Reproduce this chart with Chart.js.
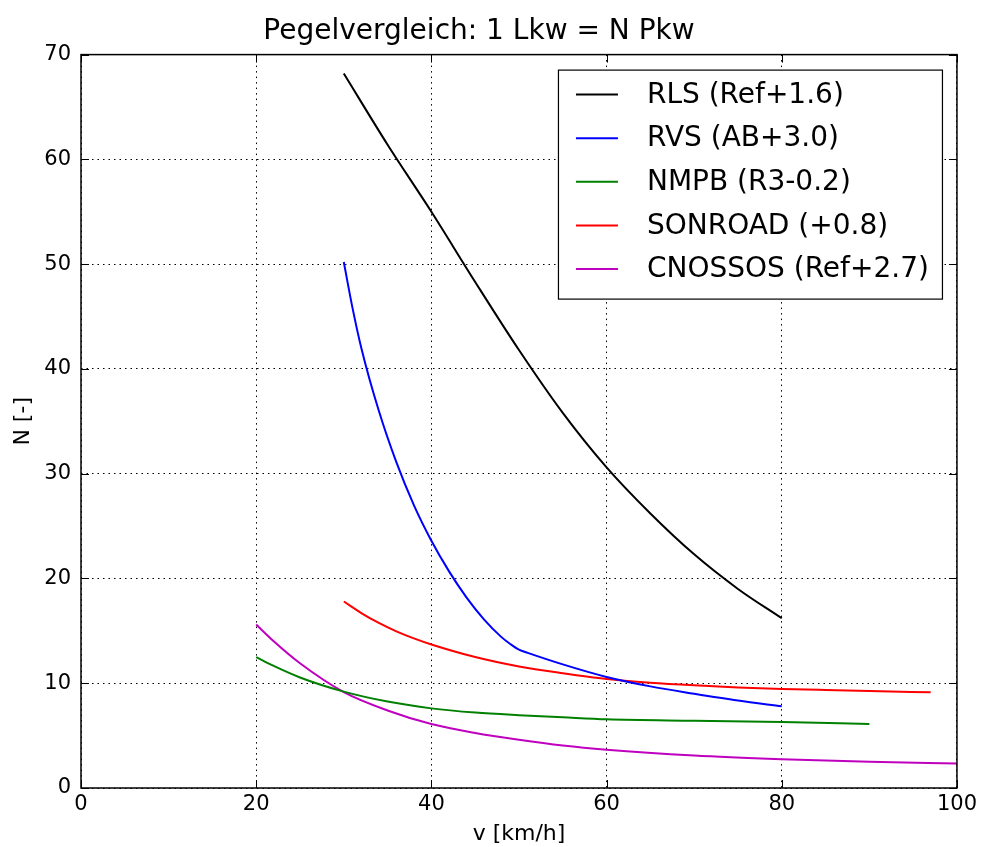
<!DOCTYPE html>
<html>
<head>
<meta charset="utf-8">
<script src="https://cdn.jsdelivr.net/npm/chart.js@4/dist/chart.umd.min.js"></script>
<style>
  html, body { margin: 0; padding: 0; background: #fff; }
  #wrap { width: 981px; height: 847px; }
</style>
</head>
<body>
<div id="wrap"><canvas id="pegel" width="981" height="847"></canvas></div>
<script>
// values
const rlsV = [30, 35, 40, 45, 50, 55, 60, 65, 70, 75, 80]
const rlsN = [68.2, 61.4, 55.0, 48.3, 41.8, 35.8, 30.6, 26.2, 22.3, 19.0, 16.2]

const rvsV = [30, 31, 32, 34, 36, 38, 40, 42, 44, 46, 48, 49, 50, 51, 55, 60, 65, 70, 75, 80]
const rvsN = [50.2, 45.8, 42.0, 36.0, 31.1, 27.0, 23.6, 20.7, 18.2, 16.1, 14.4, 13.75, 13.2, 12.9, 11.8, 10.6, 9.7, 9.0, 8.35, 7.8]

const nmpbV = [20, 22, 25, 30, 35, 40, 45, 50, 55, 60, 70, 80, 90]
const nmpbN = [12.5, 11.65, 10.55, 9.2, 8.25, 7.6, 7.2, 6.95, 6.75, 6.56, 6.42, 6.3, 6.1]

const sonV = [30, 32, 34, 36, 38, 40, 45, 50, 55, 60, 65, 70, 75, 80, 85, 90, 97]
const sonN = [17.8, 16.7, 15.75, 14.95, 14.28, 13.7, 12.5, 11.6, 10.95, 10.4, 10.05, 9.8, 9.6, 9.46, 9.35, 9.25, 9.13]

const cnoV = [20, 22, 25, 30, 35, 40, 45, 50, 55, 60, 70, 80, 90, 100]
const cnoN = [15.6, 14.0, 11.9, 9.15, 7.4, 6.1, 5.25, 4.6, 4.05, 3.65, 3.1, 2.75, 2.5, 2.35]

const seriesNames = ['RLS (Ref+1.6)', 'RVS (AB+3.0)', 'NMPB (R3-0.2)', 'SONROAD (+0.8)', 'CNOSSOS (Ref+2.7)']
const seriesColors = ['#000000', '#0000ff', '#008000', '#ff0000', '#bf00bf']

const FONT = 'DejaVu Sans'

function pts(xs, ys) {
  return xs.map((x, i) => ({ x: x, y: ys[i] }))
}

const seriesData = [pts(rlsV, rlsN), pts(rvsV, rvsN), pts(nmpbV, nmpbN), pts(sonV, sonN), pts(cnoV, cnoN)]

// frame, inward ticks and legend box like matplotlib
const mplFrame = {
  id: 'mplFrame',
  afterDatasetsDraw(chart) {
    const ctx = chart.ctx
    const a = chart.chartArea
    const xs = chart.scales.x
    const ys = chart.scales.y
    ctx.save()
    ctx.strokeStyle = '#000'
    ctx.lineWidth = 1
    xs.ticks.forEach(t => {
      const px = Math.round(xs.getPixelForValue(t.value)) + 0.5
      ctx.beginPath()
      ctx.moveTo(px, a.bottom); ctx.lineTo(px, a.bottom - 8)
      ctx.moveTo(px, a.top); ctx.lineTo(px, a.top + 8)
      ctx.stroke()
    })
    ys.ticks.forEach(t => {
      const py = Math.round(ys.getPixelForValue(t.value)) + 0.5
      ctx.beginPath()
      ctx.moveTo(a.left, py); ctx.lineTo(a.left + 8, py)
      ctx.moveTo(a.right, py); ctx.lineTo(a.right - 8, py)
      ctx.stroke()
    })
    ctx.lineWidth = 1.5
    ctx.strokeRect(a.left, a.top, a.right - a.left, a.bottom - a.top)

    // legend inside the plot, upper right
    const bx = a.right - 399, by = a.top + 15, bw = 384, bh = 229
    ctx.fillStyle = '#fff'
    ctx.fillRect(bx, by, bw, bh)
    ctx.lineWidth = 1.2
    ctx.strokeRect(bx + 0.5, by + 0.5, bw, bh)
    ctx.font = '28px ' + FONT
    ctx.textBaseline = 'middle'
    chart.data.datasets.forEach((ds, i) => {
      const y = by + 25 + i * 43.6
      ctx.strokeStyle = ds.borderColor
      ctx.lineWidth = 2
      ctx.beginPath()
      ctx.moveTo(bx + 18, y); ctx.lineTo(bx + 60, y)
      ctx.stroke()
      ctx.fillStyle = '#000'
      ctx.fillText(ds.label, bx + 89, y + 1)
    })
    ctx.restore()
  }
}

const datasets = seriesData.map((d, i) => ({
  label: seriesNames[i],
  data: d,
  borderColor: seriesColors[i],
  backgroundColor: seriesColors[i],
  borderWidth: 2,
  showLine: true,
  pointRadius: 0,
  cubicInterpolationMode: 'monotone',
  fill: false
}))

const tickFont = { family: FONT, size: 21 }

new Chart(document.getElementById('pegel'), {
  type: 'scatter',
  data: { datasets: datasets },
  plugins: [mplFrame],
  options: {
    responsive: false,
    animation: false,
    layout: { padding: { left: 0, right: 23, top: 0, bottom: 0 } },
    plugins: {
      legend: { display: false },
      tooltip: { enabled: false },
      title: {
        display: true,
        text: 'Pegelvergleich: 1 Lkw = N Pkw',
        color: '#000',
        font: { family: FONT, size: 28, weight: 'normal', lineHeight: 1.2 },
        padding: { top: 15, bottom: 6 }
      }
    },
    scales: {
      x: {
        type: 'linear',
        min: 0, max: 100,
        ticks: { stepSize: 20, color: '#000', font: tickFont, padding: 4, maxRotation: 0 },
        grid: { color: '#000', lineWidth: 1, drawTicks: false },
        border: { display: false, dash: [1.5, 4] },
        title: { display: true, text: 'v [km/h]', color: '#000', font: { family: FONT, size: 22 }, padding: { top: 0, bottom: 0 } },
        afterFit(scale) { scale.height = 59 }
      },
      y: {
        min: 0, max: 70,
        ticks: { stepSize: 10, color: '#000', font: tickFont, padding: 10 },
        grid: { color: '#000', lineWidth: 1, drawTicks: false },
        border: { display: false, dash: [1.5, 4] },
        title: { display: true, text: 'N [-]', color: '#000', font: { family: FONT, size: 22 }, padding: { top: 10, bottom: 4 } },
        afterFit(scale) { scale.width = 81 }
      }
    }
  }
})
</script>
</body>
</html>
